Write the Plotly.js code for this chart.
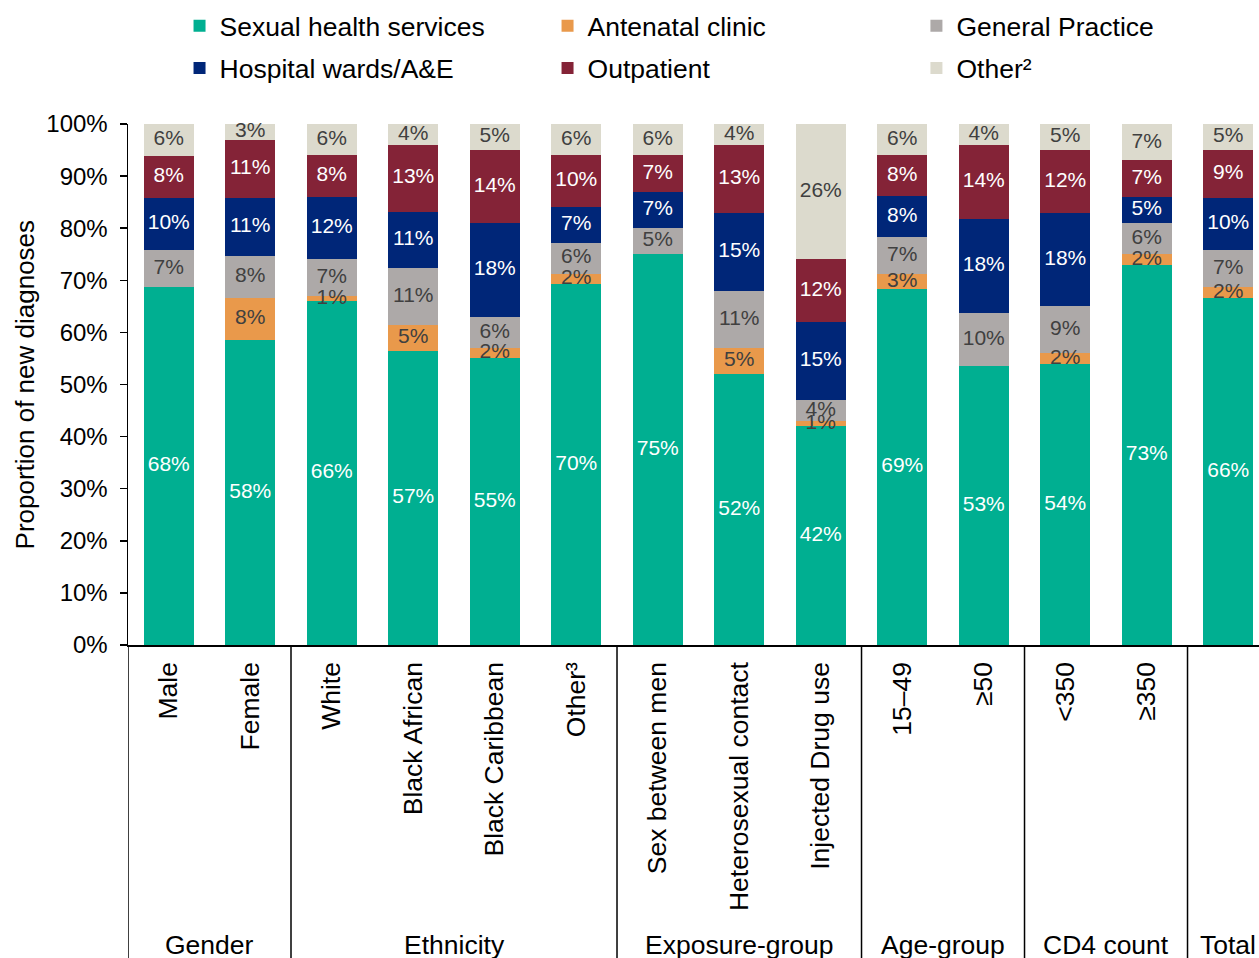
<!DOCTYPE html>
<html>
<head>
<meta charset="utf-8">
<script src="https://cdn.plot.ly/plotly-3.0.1.min.js"></script>
<style>html,body{margin:0;padding:0;background:#fff;}#chart{width:1259px;height:958px;}</style>
</head>
<body>
<div id="chart"></div>
<script>
const categories = ['Male','Female','White','Black African','Black Caribbean','Other³','Sex between men','Heterosexual contact','Injected Drug use','15–49','≥50','<350','≥350','Total'];
const tickLabels = ['Male','Female','White','Black African','Black Caribbean','Other³','Sex between men','Heterosexual contact','Injected Drug use','15–49','≥50','<350','≥350',''];
const groups = ['Gender','Ethnicity','Exposure-group','Age-group','CD4 count','Total'];
const groupSizes = [2,4,3,2,2,1];
const yTitle = 'Proportion of new diagnoses';

const seriesNames = ['Sexual health services','Antenatal clinic','General Practice','Hospital wards/A&E','Outpatient','Other²'];
const sexualHealth    = [68,58,66,57,55,70,75,52,42,69,53,54,73,66];
const antenatal       = [0,8,1,5,2,2,0,5,1,3,0,2,2,2];
const generalPractice = [7,8,7,11,6,6,5,11,4,7,10,9,6,7];
const hospital        = [10,11,12,11,18,7,7,15,15,8,18,18,5,10];
const outpatient      = [8,11,8,13,14,10,7,13,12,8,14,12,7,9];
const other           = [6,3,6,4,5,6,6,4,26,6,4,5,7,5];

const series = [sexualHealth, antenatal, generalPractice, hospital, outpatient, other];
const colors = ['#00AF91','#E9994B','#ADA9A8','#002678','#842337','#DCDACD'];
const textColors = ['#ffffff','#404040','#404040','#ffffff','#ffffff','#404040'];
const legendOf = ['legend','legend2','legend3','legend','legend2','legend3'];
const FONT = '"Liberation Sans", Arial, sans-serif';

const traces = [];
series.forEach((vals, i) => {
  traces.push({
    type: 'bar', name: seriesNames[i], x: categories, y: vals,
    marker: {color: colors[i], line: {width: 0}},
    legend: legendOf[i], legendgroup: 'g' + i,
    hoverinfo: 'skip'
  });
});
// labels, computed from the same data (normalised stacking like barnorm percent)
const totals = categories.map((c, j) => series.reduce((s, v) => s + v[j], 0));
series.forEach((vals, i) => {
  const ys = vals.map((v, j) => {
    let cum = 0;
    for (let k = 0; k < i; k++) cum += series[k][j];
    return (cum + v / 2) / totals[j] * 100;
  });
  traces.push({
    type: 'scatter', mode: 'text', x: categories, y: ys,
    text: vals.map(v => v > 0 ? v + '%' : ''),
    textposition: 'middle center',
    textfont: {family: FONT, size: 21, color: textColors[i]},
    showlegend: false, hoverinfo: 'skip', cliponaxis: false
  });
});

const shapes = [];
const annotations = [];
let start = 0;
groups.forEach((g, gi) => {
  const n = groupSizes[gi];
  shapes.push({type: 'line', xref: 'x', yref: 'paper', x0: start - 0.5, x1: start - 0.5, y0: 0, y1: -0.62,
    line: {color: '#000', width: 1.5}});
  annotations.push({xref: 'x', yref: 'paper', x: start + (n - 1) / 2, y: -0.576, text: g,
    showarrow: false, xanchor: 'center', yanchor: 'middle', font: {family: FONT, size: 26.5, color: '#000'}});
  start += n;
});
shapes.push({type: 'line', xref: 'x', yref: 'paper', x0: start - 0.5, x1: start - 0.5, y0: 0, y1: -0.62,
  line: {color: '#000', width: 1.5}});
annotations.push({xref: 'paper', yref: 'paper', x: -0.0911, y: 0.5, text: yTitle, textangle: -90,
  showarrow: false, xanchor: 'center', yanchor: 'middle', font: {family: FONT, size: 26, color: '#000'}});

function legendAt(x) {
  return {orientation: 'v', xref: 'container', yref: 'container', x: x, y: 0.998, xanchor: 'left', yanchor: 'top',
    font: {family: FONT, size: 26.5, color: '#000'}, traceorder: 'grouped', tracegroupgap: 5,
    itemwidth: 30, bgcolor: 'rgba(0,0,0,0)', borderwidth: 0};
}

const layout = {
  width: 1259, height: 958,
  margin: {l: 128, r: 0, t: 124, b: 313, pad: 0, autoexpand: false},
  paper_bgcolor: '#fff', plot_bgcolor: '#fff',
  font: {family: FONT, color: '#000', size: 24},
  barmode: 'stack', barnorm: 'percent', bargap: 0.387,
  showlegend: true,
  legend: legendAt(0.1426),
  legend2: legendAt(0.4349),
  legend3: legendAt(0.7279),
  xaxis: {type: 'category', range: [-0.5, 13.377], showgrid: false, zeroline: false,
    showline: true, linecolor: '#000', linewidth: 1.5, ticks: '', tickangle: -90,
    tickmode: 'array', tickvals: categories, ticktext: tickLabels, ticklabelstandoff: 5,
    tickfont: {family: FONT, size: 26.5, color: '#000'}, automargin: false, fixedrange: true},
  yaxis: {range: [0, 100], dtick: 10, ticksuffix: '%', showgrid: false, zeroline: false,
    showline: true, linecolor: '#000', linewidth: 1.5, ticks: 'outside', ticklen: 7, tickcolor: '#000', tickwidth: 1.5,
    ticklabelstandoff: 7,
    tickfont: {family: FONT, size: 24, color: '#000'}, automargin: false, fixedrange: true},
  shapes: shapes, annotations: annotations
};

Plotly.newPlot('chart', traces, layout, {displayModeBar: false, staticPlot: true});
</script>
</body>
</html>
